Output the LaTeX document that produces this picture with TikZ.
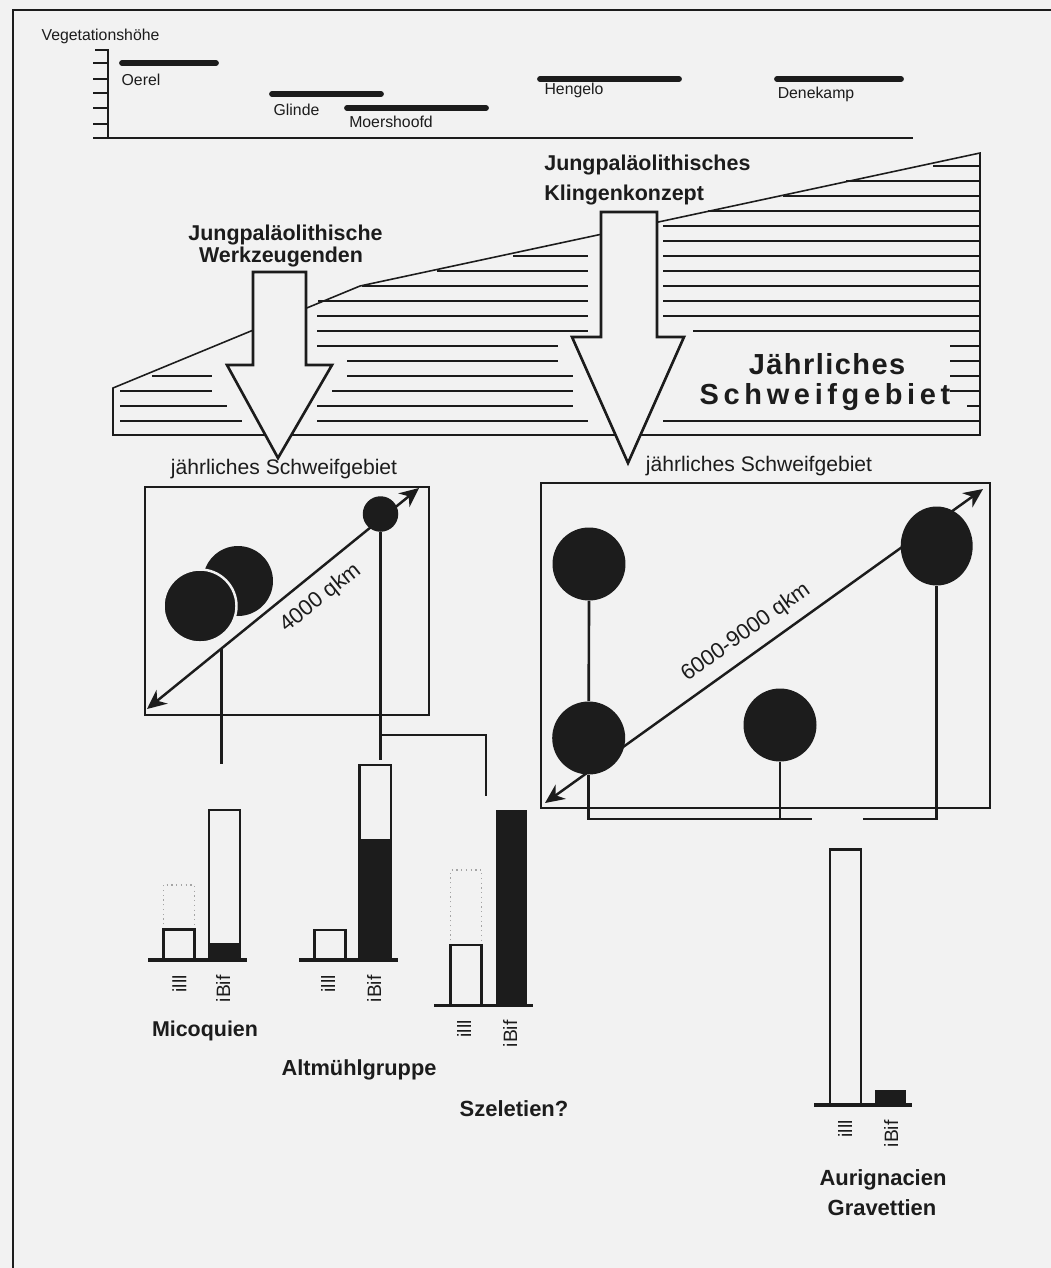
\documentclass[tikz,border=0pt]{standalone}
\usepackage{fontspec}
\setmainfont{Liberation Sans}
\usetikzlibrary{arrows.meta,shapes.geometric,calc}
\definecolor{bg}{RGB}{242,242,242}
\definecolor{ink}{RGB}{28,28,28}
\definecolor{dotgray}{RGB}{165,165,165}
\begin{document}
\begin{tikzpicture}[x=0.02cm,y=-0.02cm,
  every node/.style={inner sep=0pt, text=ink},
  frameline/.style={draw=ink, line width=1pt},
  axisline/.style={draw=ink, line width=1pt},
  vegbar/.style={draw=ink, line width=3.3pt, line cap=round},
  vegtext/.style={font=\fontsize{9}{10}\selectfont},
  wedge/.style={draw=ink, line width=0.9pt, line join=miter},
  hatch/.style={draw=ink, line width=1.6pt},
  bigarrow/.style={draw=ink, fill=bg, line width=1.5pt, line join=miter},
  headtext/.style={font=\fontsize{12.2}{14}\bfseries\selectfont},
  areabox/.style={draw=ink, line width=1pt, inner sep=0pt},
  areatext/.style={font=\fontsize{12}{14}\selectfont},
  blob/.style={circle, fill=ink, inner sep=0pt, minimum size=#1},
  conn/.style={draw=ink, line width=1.5pt},
  diag/.style={draw=ink, line width=1.4pt, {Stealth[length=11pt,width=10pt,inset=3.5pt]}-{Stealth[length=11pt,width=10pt,inset=3.5pt]}},
  qkm/.style={font=\fontsize{12.5}{14}\selectfont},
  barbox/.style={draw=ink, fill=bg, line width=1.5pt},
  barfill/.style={fill=ink},
  dotbox/.style={draw=dotgray, dotted, line width=0.7pt},
  baseline/.style={draw=ink, line width=2pt},
  barlabel/.style={font=\fontsize{11}{12}\selectfont, rotate=90, anchor=east},
  culture/.style={font=\fontsize{12.5}{14}\bfseries\selectfont}
]
\fill[bg] (0,0) rectangle (1051,1268);
\useasboundingbox (0,0) rectangle (1051,1268);

% frame
\draw[frameline] (1051,10) -- (13,10) -- (13,1268);

% vegetation axis
\node[vegtext] (veg) at (100.5,36) {Vegetationshöhe};
\draw[axisline] (95,50) -- (108,50) -- (108,138);
\foreach \yy in {63,79,93,108,124} \draw[axisline] (93,\yy) -- (108,\yy);
\draw[axisline] (93,138) -- (913,138);

\draw[vegbar] (122,63) -- (216,63);
\node[vegtext] (oerel) at (141,80) {Oerel};
\draw[vegbar] (272,94) -- (381,94);
\node[vegtext] (glinde) at (296.5,110) {Glinde};
\draw[vegbar] (347,108) -- (486,108);
\node[vegtext] (moers) at (391,122) {Moershoofd};
\draw[vegbar] (540,79) -- (679,79);
\node[vegtext] (hengelo) at (574,90) {Hengelo};
\draw[vegbar] (777,79) -- (901,79);
\node[vegtext] (dene) at (816,94) {Denekamp};

% wedge
\draw[wedge] (113,435) -- (113,388) -- (360,286) -- (980,153) -- (980,435) -- cycle;
\foreach \yy/\xa/\xb in {166/933/980, 181/846/980, 196/783/980, 211/708/980,
   226/663/980, 241/663/980,
   256/513/588, 256/663/980,
   271/437/588, 271/663/980,
   286/362/588, 286/663/980,
   301/318/588, 301/663/980,
   316/317/588, 316/663/980,
   331/317/588, 331/693/980,
   346/317/558, 346/950/980,
   361/347/558, 361/950/980,
   376/152/212, 376/347/573, 376/950/980,
   391/120/212, 391/332/573, 391/950/980,
   406/120/227, 406/317/573, 406/967/980,
   421/120/242, 421/317/588, 421/663/980}
  \draw[hatch] (\xa,\yy) -- (\xb,\yy);

% big arrows
\draw[bigarrow] (253,272) -- (306,272) -- (306,365) -- (332,365) -- (278,458) -- (227,365) -- (253,365) -- cycle;
\draw[bigarrow] (601,212) -- (657,212) -- (657,337) -- (684,337) -- (628,463) -- (572,337) -- (601,337) -- cycle;

\node[headtext] (wz1) at (285.5,235) {Jungpaläolithische};
\node[headtext] (wz2) at (281,257) {Werkzeugenden};
\node[headtext, anchor=west] (kk1) at (544,165) {Jungpaläolithisches};
\node[headtext, anchor=west] (kk2) at (544,195) {Klingenkonzept};

\node[font=\fontsize{16.5}{18}\bfseries\addfontfeature{LetterSpace=5}\selectfont] (js1) at (827,364) {Jährliches};
\node[font=\fontsize{16.5}{18}\bfseries\addfontfeature{LetterSpace=16}\selectfont] (js2) at (825,397) {Schweifgebiet};

% left area box
\node[areatext] (lt) at (284,469) {jährliches Schweifgebiet};
\node[areabox, minimum width=5.68cm, minimum height=4.56cm] (boxL) at (287,601) {};
\coordinate (dLa) at (147,709);
\coordinate (dLb) at (419,488);
\draw[diag] (dLa) -- (dLb);
\node[blob=1.40cm] (cB) at (238,581) {};
\node[blob=1.46cm, draw=bg, line width=1.4pt] (cA) at (200,606) {};
\node[blob=0.71cm] (cS) at (380.5,514) {};
\node[qkm, rotate=38.8] (q1) at (320.7,598.3) {4000 qkm};

% right area box
\node[areatext] (rt) at (759,466) {jährliches Schweifgebiet};
\node[areabox, minimum width=8.98cm, minimum height=6.5cm] (boxR) at (765.5,645.5) {};
\coordinate (dRa) at (545,803);
\coordinate (dRb) at (983,489);
\draw[diag] (dRa) -- (dRb);
\node[blob=1.46cm] (cUL) at (589,564) {};
\node[blob=1.46cm] (cLL) at (588.7,738) {};
\node[blob=1.46cm] (cM) at (780,725) {};
\node[ellipse, fill=ink, inner sep=0pt, minimum width=1.44cm, minimum height=1.58cm] (cUR) at (936.7,546) {};
\node[qkm, rotate=35.6] (q2) at (746,632.5) {6000-9000 qkm};

% connectors left
\coordinate (mA) at ($(dLa)!0.2746!(dLb)$);
\coordinate (micTop) at (222,764);
\draw[conn] (mA) -- (mA |- micTop);
\coordinate (altTop) at (379,760);
\coordinate (jn) at (379,735);
\coordinate (szTop) at (486,796);
\draw[conn] (cS.south) -- (cS.south |- altTop);
\draw[conn] (cS.south |- jn) -- (jn -| szTop) -- (szTop);

% connectors right
\coordinate (rj1) at (812,819);
\coordinate (rj2) at (863,819);
\draw[conn] (cUL.south) -- (cLL.north);
\draw[conn] (cLL.south) -- (cLL.south |- rj1) -- (rj1);
\draw[conn] (cM.south) -- (cM.south |- rj1);
\draw[conn] (rj2) -- (rj2 -| cUR.south) -- (cUR.south);

% Micoquien
\draw[dotbox] (163.3,929) -- (163.3,885) -- (194.3,885) -- (194.3,929);
\draw[barbox] (163.3,960) rectangle (194.3,929.3);
\draw[barbox] (209,960) rectangle (240,810);
\fill[barfill] (209,943.3) rectangle (240,960);
\draw[baseline] (148,960) -- (246.7,960);
\node[barlabel] (m1) at (179.3,975) {illl};
\node[barlabel] (m2) at (223,975) {iBif};
\node[culture, font=\fontsize{12.2}{14}\bfseries\selectfont] (mico) at (205,1031) {Micoquien};

% Altmuehlgruppe
\draw[barbox] (314.3,960) rectangle (345.7,930);
\draw[barbox] (359.3,960) rectangle (391,765);
\fill[barfill] (359.3,839) rectangle (391,960);
\draw[baseline] (299.3,960) -- (397.7,960);
\node[barlabel] (a1) at (328,975) {illl};
\node[barlabel] (a2) at (374,975) {iBif};
\node[culture, font=\fontsize{12.4}{14}\bfseries\selectfont] (alt) at (359,1070) {Altmühlgruppe};

% Szeletien
\draw[dotbox] (450.7,945) -- (450.7,870) -- (481.7,870) -- (481.7,945);
\draw[barbox] (450.7,1005.7) rectangle (481.7,945);
\fill[barfill] (495.7,810) rectangle (527.3,1005.7);
\draw[baseline] (434,1005.7) -- (533.3,1005.7);
\node[barlabel] (s1) at (464,1020) {illl};
\node[barlabel] (s2) at (510,1020) {iBif};
\node[culture] (szel) at (514,1109) {Szeletien?};

% Aurignacien / Gravettien
\draw[barbox] (830,1105) rectangle (861,849.3);
\fill[barfill] (875,1090) rectangle (905.7,1105);
\draw[baseline] (814.3,1105) -- (912.3,1105);
\node[barlabel] (g1) at (845,1120) {illl};
\node[barlabel] (g2) at (891,1120) {iBif};
\node[culture] (aur) at (883,1180) {Aurignacien};
\node[culture] (grav) at (882,1208) {Gravettien};
\end{tikzpicture}
\end{document}
